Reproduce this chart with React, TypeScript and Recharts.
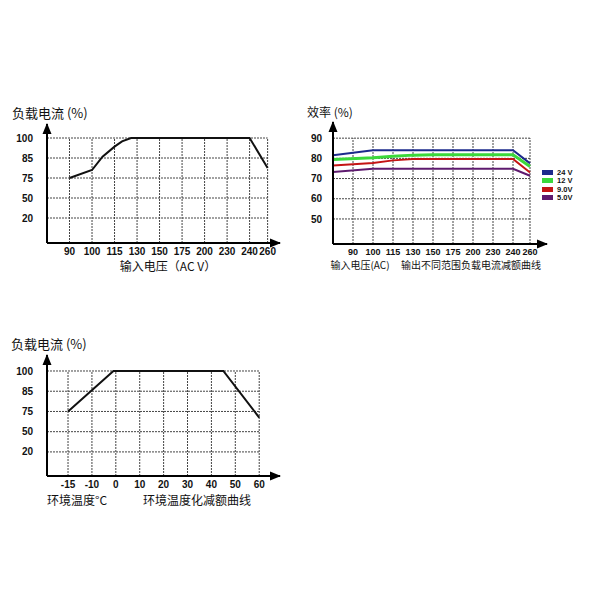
import { LineChart, Line, XAxis, YAxis, ReferenceLine, ReferenceDot, Legend } from "recharts"

// ---- data ----
// chart 1: load current vs input voltage
const voltTicks = [90, 100, 115, 130, 150, 175, 200, 230, 240, 260]
const loadTicks = [20, 50, 75, 85, 100]
const voltPoints = [90, 100, 107, 115, 120, 126, 240, 260]
const voltLoad = [75, 79, 86, 93.5, 97.5, 100, 100, 80]

// chart 2: efficiency vs input voltage, per output
const effTicks = [50, 60, 70, 80, 90]
const effVolt = [80, 100, 115, 130, 150, 240, 260]
const eff24 = [81.5, 84, 84, 84, 84, 84, 77.5]
const eff12 = [79.4, 80.3, 81, 81.6, 81.8, 81.8, 76]
const eff9 = [76.5, 77.7, 79, 79.7, 79.7, 79.7, 73]
const eff5 = [73.3, 74.8, 74.8, 74.8, 74.8, 74.8, 71.4]
const seriesNames = ["24 V", "12 V", "9.0V", "5.0V"]

// chart 3: load current vs ambient temperature
const tempTicks = [-15, -10, 0, 10, 20, 30, 40, 50, 60]
const tempPoints = [-15, -1, 45, 60]
const tempLoad = [75, 100, 100, 67.5]

const CJK = "'Noto Sans CJK SC', 'Liberation Sans', sans-serif"
const NUM = "'Liberation Sans', Arial, sans-serif"
const GRID = "#444"

// piecewise linear mapping between tick values and evenly spaced positions
function makeMap(values: number[], positions: number[]) {
  return (v: number) => {
    let i = 0
    while (i < values.length - 2 && v > values[i + 1]) i++
    const t = (v - values[i]) / (values[i + 1] - values[i])
    return positions[i] + t * (positions[i + 1] - positions[i])
  }
}

const voltPos = [1, 2, 3, 4, 5, 6, 7, 8, 9, 9.8]
const voltPos2 = [1, 2, 3, 4, 5, 6, 7, 8, 9, 9.85]
const loadPos = [0, 1, 2, 3, 4]
const tempPos = [1, 2, 3, 4, 5, 6, 7, 8, 9]

const voltX = makeMap(voltTicks, voltPos)
const voltX2 = makeMap(voltTicks, voltPos2)
const loadY = makeMap(loadTicks, loadPos)
const tempX = makeMap(tempTicks, tempPos)

const chart1Data = voltPoints.map((v, i) => ({ x: voltX(v), y: loadY(voltLoad[i]) }))
const chart2Data = effVolt.map((v, i) => ({ x: voltX2(v), v24: eff24[i], v12: eff12[i], v9: eff9[i], v5: eff5[i] }))
const chart3Data = tempPoints.map((t, i) => ({ x: tempX(t), y: loadY(tempLoad[i]) }))

function grid(xs: number[], ys: number[], x0: number, y0: number) {
  const xEnd = xs[xs.length - 1]
  const yTop = ys[ys.length - 1]
  const out = []
  xs.forEach((x, i) =>
    out.push(
      <ReferenceLine key={`v${i}`} segment={[{ x, y: y0 }, { x, y: yTop }]} stroke={GRID} strokeDasharray="2 1" />,
    ),
  )
  ys.forEach((y, i) =>
    out.push(
      <ReferenceLine key={`h${i}`} segment={[{ x: x0, y }, { x: xEnd, y }]} stroke={GRID} strokeDasharray="2 1" />,
    ),
  )
  return out
}

const upArrow = (p: any) => <path d={`M${p.cx},${p.cy - 1} l-4.5,11 l9,0 z`} fill="#000" />
const rightArrow = (p: any) => <path d={`M${p.cx + 1},${p.cy} l-11,-4.5 l0,9 z`} fill="#000" />

function arrows(x0: number, x1: number, y0: number, y1: number) {
  return [
    <ReferenceDot key="au" x={x0} y={y1} ifOverflow="visible" shape={upArrow} />,
    <ReferenceDot key="ar" x={x1} y={y0} ifOverflow="visible" shape={rightArrow} />,
  ]
}

const tickStyle = { fontSize: 10, fontWeight: "bold", fill: "#111", fontFamily: NUM }
const tickStyle2 = { fontSize: 9, fontWeight: "bold", fill: "#111", fontFamily: NUM }
const axisLine = { stroke: "#000", strokeWidth: 2 }

function Text({ x, y, size, children }: { x: number; y: number; size: number; children: any }) {
  return (
    <div
      style={{
        position: "absolute",
        left: x,
        top: y,
        transform: "translate(-50%, -50%)",
        fontSize: size,
        fontFamily: CJK,
        color: "#111",
        whiteSpace: "nowrap",
        lineHeight: 1,
      }}
    >
      {children}
    </div>
  )
}

function LegendBox({ payload }: any) {
  const items = [...(payload || [])].sort(
    (a: any, b: any) => seriesNames.indexOf(a.value) - seriesNames.indexOf(b.value),
  )
  return (
    <div>
      {items.map((e: any) => (
        <div key={e.value} style={{ display: "flex", alignItems: "center", height: 8.5 }}>
          <span style={{ width: 11, height: 5, background: e.color, display: "inline-block" }} />
          <span style={{ marginLeft: 4, fontSize: 7.5, fontWeight: "bold", fontFamily: NUM, color: "#111", lineHeight: 1 }}>
            {e.value}
          </span>
        </div>
      ))}
    </div>
  )
}

export default function App() {
  const y1Domain = [-1.25, 4.7]
  const x1Domain = [0, 10.35]
  const x2Domain = [0, 10.7]
  const y2Domain = [37.6, 98]
  const y3Domain = [-1.19, 4.79]
  const x3Domain = [0.12, 9.87]

  return (
    <div style={{ position: "absolute", left: 0, top: 0, width: 600, height: 600, background: "#fff" }}>
      {/* chart 1 */}
      <div style={{ position: "absolute", left: 0, top: 100 }}>
        <LineChart width={300} height={160} data={chart1Data} margin={{ top: 24, right: 20, bottom: 0, left: 0 }}>
          <XAxis
            dataKey="x"
            type="number"
            domain={x1Domain}
            allowDataOverflow
            ticks={voltPos}
            interval={0}
            tickFormatter={(p) => String(voltTicks[voltPos.indexOf(p)] ?? "")}
            tickLine={false}
            tickSize={0}
            tickMargin={5}
            height={17}
            axisLine={axisLine}
            tick={tickStyle}
          />
          <YAxis
            type="number"
            domain={y1Domain}
            allowDataOverflow
            ticks={loadPos}
            interval={0}
            tickFormatter={(p) => String(loadTicks[loadPos.indexOf(p)] ?? "")}
            tickLine={false}
            tickSize={0}
            tickMargin={14}
            width={47}
            axisLine={axisLine}
            tick={tickStyle}
          />
          {grid(voltPos, loadPos, 0, y1Domain[0])}
          <Line dataKey="y" type="linear" stroke="#111" strokeWidth={2} dot={false} isAnimationActive={false} />
          {arrows(0, x1Domain[1], y1Domain[0], y1Domain[1])}
        </LineChart>
      </div>
      <div style={{ position: "absolute", left: 12, top: 106, fontSize: 13, fontFamily: CJK, color: "#111", whiteSpace: "nowrap", lineHeight: 1 }}>
        负载电流 (%)
      </div>
      <Text x={168} y={266} size={12}>
        输入电压（AC V）
      </Text>

      {/* chart 2 */}
      <div style={{ position: "absolute", left: 300, top: 100 }}>
        <LineChart width={300} height={160} data={chart2Data} margin={{ top: 22, right: 53, bottom: 0, left: 0 }}>
          <XAxis
            dataKey="x"
            type="number"
            domain={x2Domain}
            allowDataOverflow
            ticks={voltPos2}
            interval={0}
            tickFormatter={(p) => String(voltTicks[voltPos2.indexOf(p)] ?? "")}
            tickLine={false}
            tickSize={0}
            tickMargin={5}
            height={16}
            axisLine={axisLine}
            tick={tickStyle2}
          />
          <YAxis
            type="number"
            domain={y2Domain}
            allowDataOverflow
            ticks={effTicks}
            interval={0}
            tickLine={false}
            tickSize={0}
            tickMargin={11}
            width={33}
            axisLine={axisLine}
            tick={tickStyle}
          />
          {grid(voltPos2, effTicks, 0, y2Domain[0])}
          <Line dataKey="v24" name="24 V" type="linear" stroke="#1c2a8c" strokeWidth={2} dot={false} isAnimationActive={false} />
          <Line dataKey="v12" name="12 V" type="linear" stroke="#3bd83b" strokeWidth={3} dot={false} isAnimationActive={false} />
          <Line dataKey="v9" name="9.0V" type="linear" stroke="#c41414" strokeWidth={2} dot={false} isAnimationActive={false} />
          <Line dataKey="v5" name="5.0V" type="linear" stroke="#5e1a6e" strokeWidth={2} dot={false} isAnimationActive={false} />
          {arrows(0, x2Domain[1], y2Domain[0], y2Domain[1])}
          <Legend
            layout="vertical"
            align="center"
            verticalAlign="middle"
            content={LegendBox}
            wrapperStyle={{ left: 242, top: 68, width: 58 }}
          />
        </LineChart>
      </div>
      <div style={{ position: "absolute", left: 307, top: 106, fontSize: 12, fontFamily: CJK, color: "#111", whiteSpace: "nowrap", lineHeight: 1 }}>
        效率 (%)
      </div>
      <Text x={360} y={265} size={10}>
        输入电压(AC)
      </Text>
      <Text x={471} y={265} size={10}>
        输出不同范围负载电流减额曲线
      </Text>

      {/* chart 3 */}
      <div style={{ position: "absolute", left: 0, top: 330 }}>
        <LineChart width={300} height={170} data={chart3Data} margin={{ top: 25, right: 20, bottom: 0, left: 0 }}>
          <XAxis
            dataKey="x"
            type="number"
            domain={x3Domain}
            allowDataOverflow
            ticks={tempPos}
            interval={0}
            tickFormatter={(p) => String(tempTicks[tempPos.indexOf(p)] ?? "")}
            tickLine={false}
            tickSize={0}
            tickMargin={5}
            height={24}
            axisLine={axisLine}
            tick={tickStyle}
          />
          <YAxis
            type="number"
            domain={y3Domain}
            allowDataOverflow
            ticks={loadPos}
            interval={0}
            tickFormatter={(p) => String(loadTicks[loadPos.indexOf(p)] ?? "")}
            tickLine={false}
            tickSize={0}
            tickMargin={14}
            width={47}
            axisLine={axisLine}
            tick={tickStyle}
          />
          {grid(tempPos, loadPos, x3Domain[0], y3Domain[0])}
          <Line dataKey="y" type="linear" stroke="#111" strokeWidth={2} dot={false} isAnimationActive={false} />
          {arrows(x3Domain[0], x3Domain[1], y3Domain[0], y3Domain[1])}
        </LineChart>
      </div>
      <div style={{ position: "absolute", left: 11, top: 337, fontSize: 13, fontFamily: CJK, color: "#111", whiteSpace: "nowrap", lineHeight: 1 }}>
        负载电流 (%)
      </div>
      <Text x={77} y={500} size={12}>
        环境温度°C
      </Text>
      <Text x={197} y={500} size={12}>
        环境温度化减额曲线
      </Text>
    </div>
  )
}
